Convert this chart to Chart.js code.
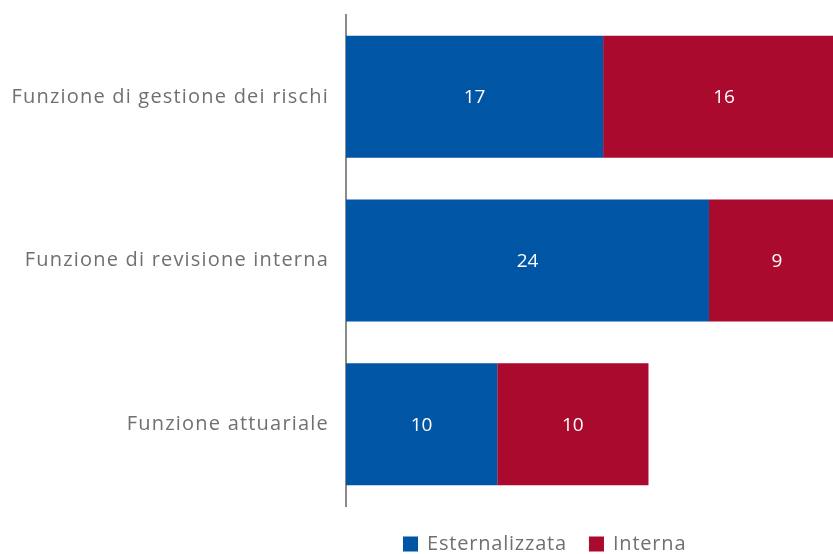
<!DOCTYPE html>
<html>
<head>
<meta charset="utf-8">
<script src="https://cdn.jsdelivr.net/npm/chart.js@4/dist/chart.umd.min.js"></script>
<style>
html,body{margin:0;padding:0;background:#fff;}
#wrap{width:833px;height:554px;position:relative;}
</style>
</head>
<body>
<div id="wrap"><canvas id="c" width="833" height="554"></canvas></div>
<script>
const categories = ["Funzione di gestione dei rischi", "Funzione di revisione interna", "Funzione attuariale"];
const seriesNames = ["Esternalizzata", "Interna"];
const esternalizzata = [17, 24, 10];
const interna = [16, 9, 10];
const colors = ["#0055A4", "#A90A2E"];

const FONT = "'Open Sans', sans-serif";

const spacing = {
  id: 'spacing',
  beforeInit(chart) { chart.ctx.letterSpacing = '1.2px'; },
  beforeDraw(chart) { chart.ctx.letterSpacing = '1.2px'; }
};

const valueLabels = {
  id: 'valueLabels',
  afterDatasetsDraw(chart) {
    const ctx = chart.ctx;
    ctx.save();
    ctx.letterSpacing = '0px';
    ctx.fillStyle = '#ffffff';
    ctx.font = '19px ' + FONT;
    ctx.textAlign = 'center';
    ctx.textBaseline = 'middle';
    chart.data.datasets.forEach((ds, i) => {
      const meta = chart.getDatasetMeta(i);
      meta.data.forEach((el, j) => {
        const cx = (el.x + el.base) / 2;
        ctx.fillText(String(ds.data[j]), cx, el.y + 1);
      });
    });
    ctx.restore();
  }
};

const customLegend = {
  id: 'customLegend',
  afterDraw(chart) {
    const ctx = chart.ctx;
    ctx.save();
    ctx.letterSpacing = '0.8px';
    ctx.font = '20px ' + FONT;
    ctx.textBaseline = 'middle';
    ctx.textAlign = 'left';
    const box = 15, gapBoxText = 9, gapItems = 22;
    const items = chart.data.datasets.map(d => ({label: d.label, color: d.backgroundColor}));
    items.forEach(it => { it.w = ctx.measureText(it.label).width; });
    let x = 403;
    const cy = 544;
    items.forEach(it => {
      ctx.fillStyle = it.color;
      ctx.fillRect(x, cy - box / 2, box, box);
      x += box + gapBoxText;
      ctx.fillStyle = '#707070';
      ctx.fillText(it.label, x, cy);
      x += it.w + gapItems;
    });
    ctx.restore();
  }
};

new Chart(document.getElementById('c'), {
  type: 'bar',
  data: {
    labels: categories,
    datasets: [
      {label: seriesNames[0], data: esternalizzata, backgroundColor: colors[0], borderWidth: 0},
      {label: seriesNames[1], data: interna, backgroundColor: colors[1], borderWidth: 0}
    ]
  },
  options: {
    indexAxis: 'y',
    responsive: false,
    animation: false,
    layout: {padding: {top: 15, bottom: 48, right: 0, left: 0}},
    datasets: {bar: {categoryPercentage: 1, barPercentage: 0.745}},
    plugins: {legend: {display: false}, tooltip: {enabled: false}},
    scales: {
      x: {stacked: true, display: false, min: 0, max: 32.2, grid: {display: false}},
      y: {
        stacked: true,
        grid: {display: false, drawTicks: false},
        border: {display: true, color: '#8a8a8a', width: 2},
        ticks: {color: '#707070', font: {family: FONT, size: 20}, padding: 17},
        afterFit(scale) { scale.width = 346; scale.paddingTop = 0; scale.paddingBottom = 0; }
      }
    }
  },
  plugins: [spacing, valueLabels, customLegend]
});
</script>
</body>
</html>
